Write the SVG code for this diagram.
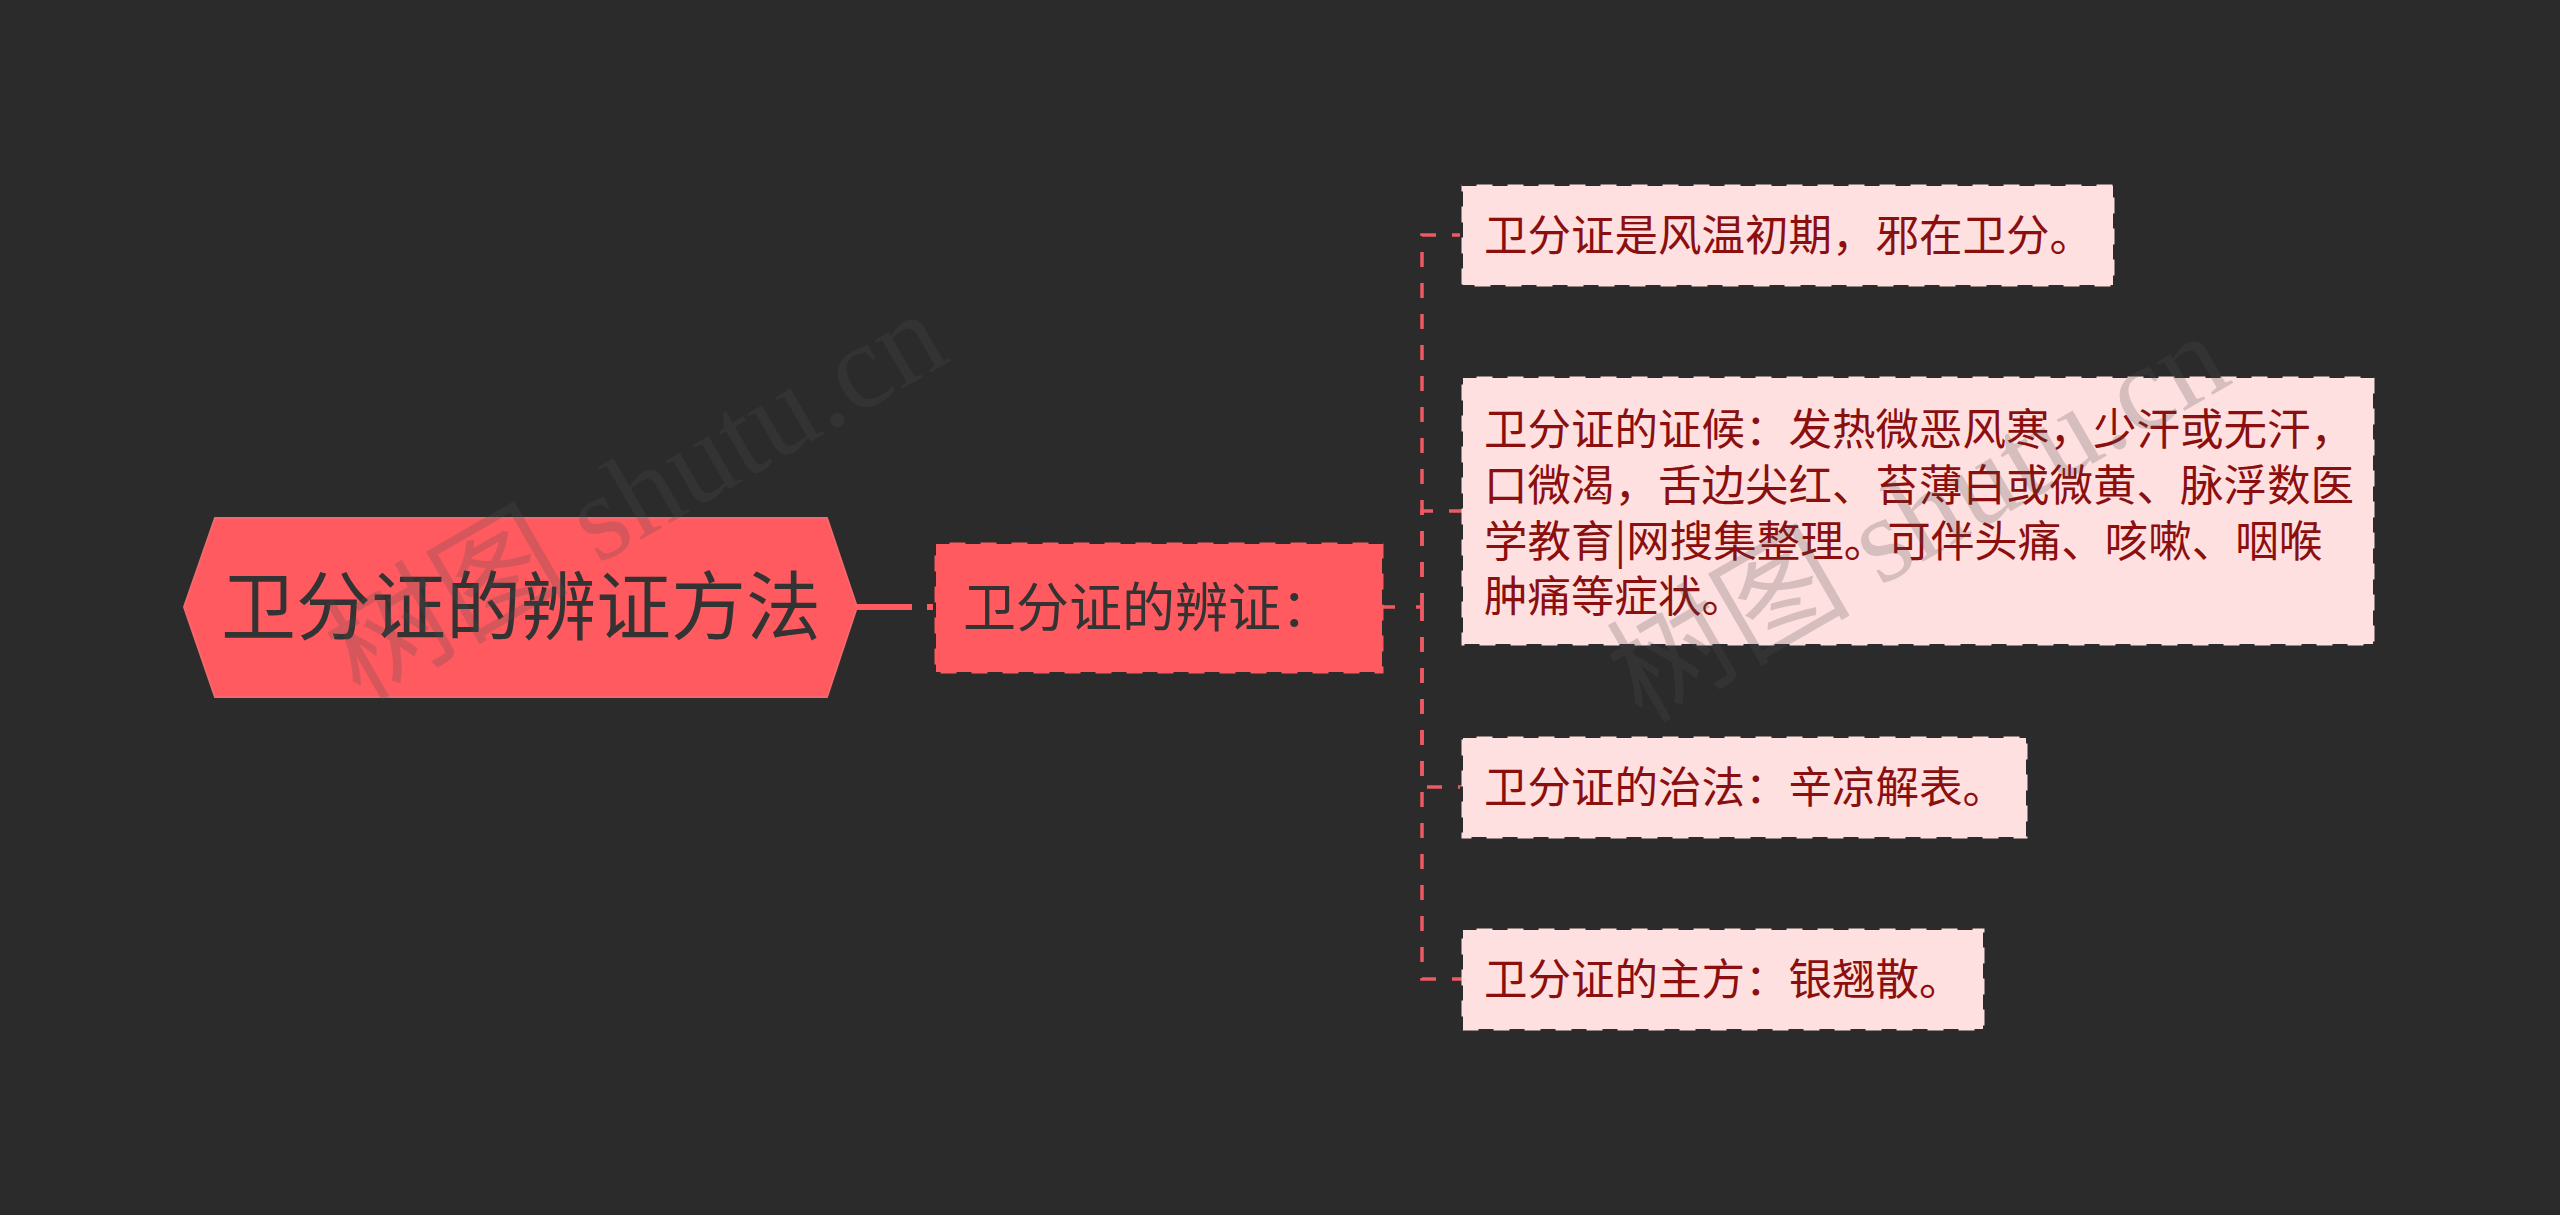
<svg xmlns="http://www.w3.org/2000/svg" width="2560" height="1215" viewBox="0 0 2560 1215">
<style>
text{font-family:"Noto Sans CJK SC","Noto Sans",sans-serif}
.root{fill:#ff5a5f;stroke:#f2686c;stroke-width:2}
.sub{fill:#ff5a5f;stroke:#2b2b2b;stroke-width:3;stroke-dasharray:15 16}
.leaf{fill:#ffe0e0;stroke:#2b2b2b;stroke-width:3;stroke-dasharray:15 16}
.dark{fill:#333}
.t{fill:#8b0f0f;font-size:43.5px}
.c{fill:none;stroke:#ee5a64;stroke-width:3.5;stroke-dasharray:15 16;stroke-dashoffset:1}
.wm{font-family:"Liberation Serif","Noto Sans CJK SC",serif;font-size:122px;fill:rgb(78,78,78);fill-opacity:.23}
</style>
<rect width="2560" height="1215" fill="#2b2b2b"/>
<g id="connectors">
<path d="M857 607H934" fill="none" stroke="#ff5a5f" stroke-width="6" stroke-dasharray="55 15"/>
<path d="M1383 607H1422" fill="none" stroke="#ee5a64" stroke-width="3.5" stroke-dasharray="12 21"/>
<path class="c" d="M1422 607V235H1462"/>
<path class="c" d="M1422 607V511H1462"/>
<path class="c" d="M1422 607V787H1462"/>
<path class="c" d="M1422 607V979H1462"/>
</g>
<g id="root">
<polygon class="root" points="184,607 215,518 827,518 857,607 827,697 215,697"/>
<text class="dark" x="221" y="634" font-size="75">卫分证的辨证方法</text>
</g>
<g id="sub">
<rect class="sub" x="934.5" y="542.5" width="449" height="131"/>
<text class="dark" x="963" y="627" font-size="53">卫分证的辨证：</text>
</g>
<g id="leaf1">
<rect class="leaf" x="1461.5" y="184.5" width="653" height="102"/>
<text class="t" x="1484" y="251">卫分证是风温初期，邪在卫分。</text>
</g>
<g id="leaf2">
<rect class="leaf" x="1461.5" y="376.5" width="913" height="269"/>
<text class="t" x="1484" y="445">卫分证的证候：发热微恶风寒，少汗或无汗，</text>
<text class="t" x="1484" y="501">口微渴，舌边尖红、苔薄白或微黄、脉浮数医</text>
<text class="t" x="1484" y="557">学教育|网搜集整理。可伴头痛、咳嗽、咽喉</text>
<text class="t" x="1484" y="612">肿痛等症状。</text>
</g>
<g id="leaf3">
<rect class="leaf" x="1461.5" y="736.5" width="566" height="102"/>
<text class="t" x="1484" y="803">卫分证的治法：辛凉解表。</text>
</g>
<g id="leaf4">
<rect class="leaf" x="1461.5" y="928.5" width="523" height="102"/>
<text class="t" x="1484" y="995">卫分证的主方：银翘散。</text>
</g>
<text class="wm" transform="translate(360 702) rotate(-30)">树图 shutu.cn</text>
<text class="wm" transform="translate(1642 724) rotate(-30)">树图 shutu.cn</text>
</svg>
